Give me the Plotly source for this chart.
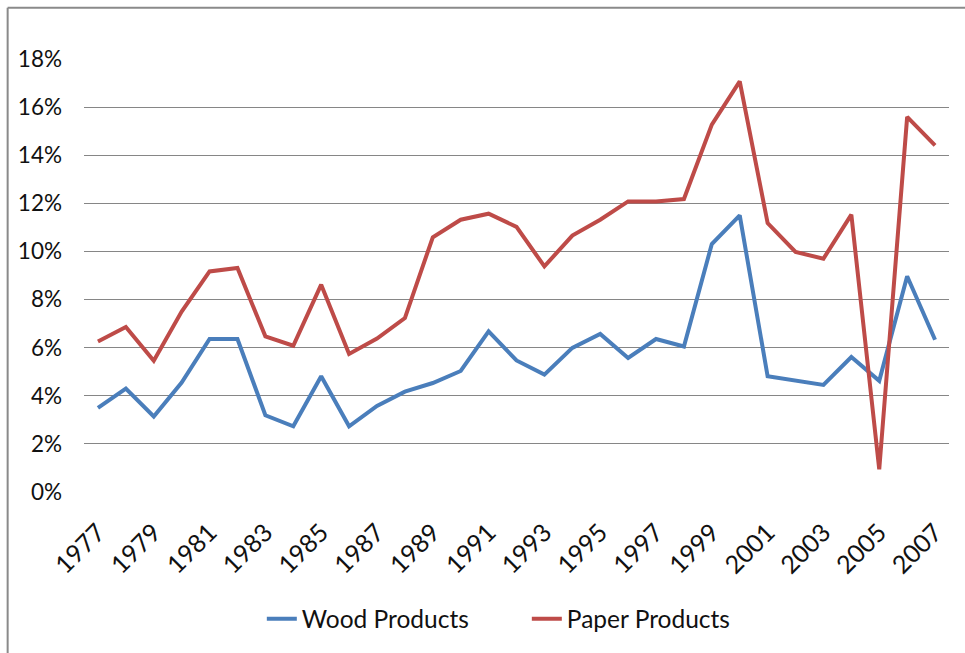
import plotly.graph_objects as go

# Annual values, 1977-2007 (fractions, shown as percent)
years = [str(y) for y in range(1977, 2008)]
wood_products = [
    0.035, 0.043, 0.0314, 0.0455, 0.0636, 0.0636, 0.0319, 0.0273, 0.0481, 0.0273,
    0.0358, 0.0417, 0.0453, 0.0503, 0.0668, 0.0547, 0.0488, 0.0599, 0.0657, 0.0557,
    0.0636, 0.0605, 0.1031, 0.1150, 0.0481, 0.0464, 0.0445, 0.0561, 0.0462, 0.0897,
    0.0633,
]
paper_products = [
    0.0626, 0.0686, 0.0546, 0.0750, 0.0917, 0.0931, 0.0647, 0.0608, 0.0862, 0.0574,
    0.0638, 0.0723, 0.1059, 0.1132, 0.1157, 0.1102, 0.0938, 0.1066, 0.1132, 0.1208,
    0.1208, 0.1218, 0.1527, 0.1707, 0.1118, 0.0998, 0.0970, 0.1153, 0.0094, 0.1559,
    0.1441,
]
y_ticks = [0, 0.02, 0.04, 0.06, 0.08, 0.10, 0.12, 0.14, 0.16, 0.18]
x_ticks = years[::2]

FONT = "Lato, Carlito, Calibri, 'Open Sans', sans-serif"
GRID = "#868686"

fig = go.Figure()
fig.add_trace(go.Scatter(
    x=years, y=wood_products, name="Wood Products", mode="lines",
    line=dict(color="#4A7EBB", width=4),
))
fig.add_trace(go.Scatter(
    x=years, y=paper_products, name="Paper Products", mode="lines",
    line=dict(color="#BE4B48", width=4),
))

L, R, T, B = 84.3, 16.3, 59.3, 160.7
W, H = 965, 653
pw, ph = W - L - R, H - T - B

def px_x(px):
    return (px - L) / pw

def px_y(py):
    return (H - B - py) / ph

# Outer chart frame (left and top edges)
frame = dict(color="#8a8a8a", width=2)
fig.add_shape(type="line", xref="paper", yref="paper",
              x0=px_x(8), x1=px_x(8), y0=px_y(8), y1=px_y(700), line=frame)
fig.add_shape(type="line", xref="paper", yref="paper",
              x0=px_x(8), x1=px_x(1000), y0=px_y(8), y1=px_y(8), line=frame)

fig.update_layout(
    width=W, height=H,
    margin=dict(l=L, r=R, t=T, b=B, pad=0),
    paper_bgcolor="white", plot_bgcolor="white",
    font=dict(family=FONT, size=22, color="#111111"),
    showlegend=True,
    legend=dict(
        orientation="h", xref="paper", yref="paper",
        x=px_x(262), xanchor="left", y=px_y(619), yanchor="middle",
        font=dict(size=24.5), entrywidth=220, entrywidthmode="pixels",
        bgcolor="rgba(0,0,0,0)",
    ),
    xaxis=dict(
        type="category", tickmode="array", tickvals=x_ticks, ticktext=x_ticks,
        tickangle=-45, tickfont=dict(size=25), showgrid=False, zeroline=False,
        showline=False, ticks="", ticklabelstandoff=20,
        range=[-0.5, len(years) - 0.5],
    ),
    yaxis=dict(
        range=[0, 0.18], tickmode="array", tickvals=y_ticks, tickformat=".0%",
        tickfont=dict(size=22.5),
        showgrid=True, gridcolor=GRID, gridwidth=1, zeroline=False,
        showline=False, ticks="", ticklabelstandoff=21,
    ),
)

fig.write_html("out.html")
